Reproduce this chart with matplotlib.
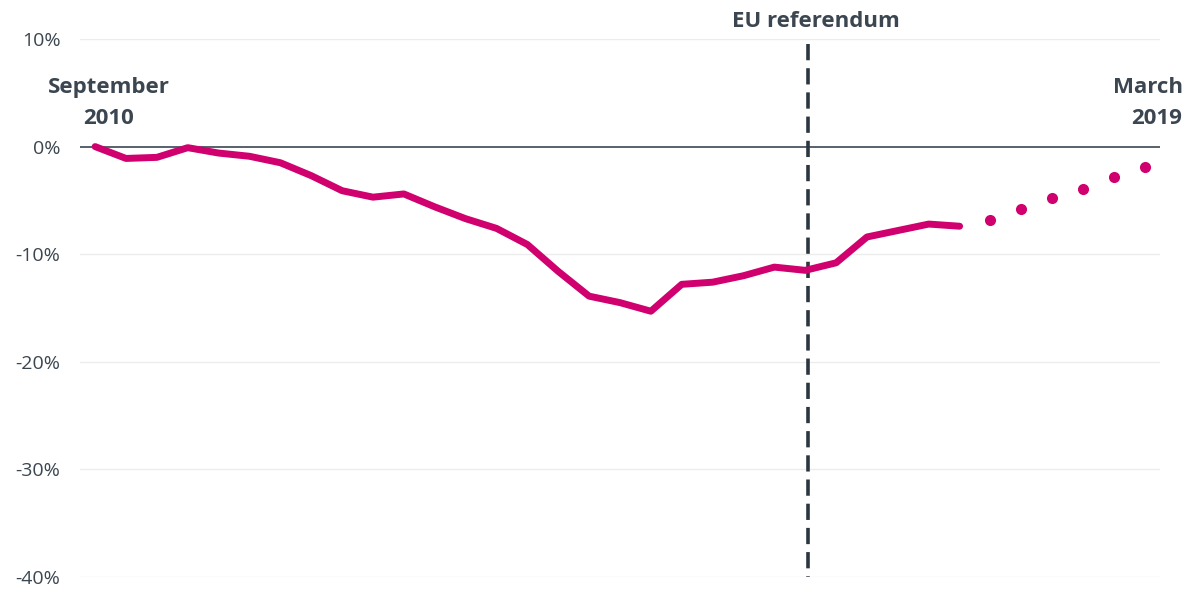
import matplotlib
matplotlib.use("Agg")
from matplotlib import pyplot as plt
import numpy as np

# quarterly change since September 2010 (%)
actual = [0.0, -1.1, -1.0, -0.1, -0.6, -0.9, -1.5, -2.7, -4.1, -4.7,
          -4.4, -5.6, -6.7, -7.6, -9.1, -11.6, -13.9, -14.5, -15.3, -12.8,
          -12.6, -12.0, -11.2, -11.5, -10.8, -8.4, -7.8, -7.2, -7.4]
projected = [-6.8, -5.8, -4.8, -3.9, -2.8, -1.9]
referendum_idx = 23
y_ticks = [10, 0, -10, -20, -30, -40]
y_tick_labels = ["10%", "0%", "-10%", "-20%", "-30%", "-40%"]

pink = "#d0006f"
text_col = "#3c4650"

plt.rcParams['font.family'] = ['Open Sans', 'DejaVu Sans']

fig = plt.figure(figsize=(11.94, 5.90), dpi=100)
ax = fig.add_axes([80 / 1194, 1 - 577 / 590, 1080 / 1194, 538 / 590])

x_act = np.arange(len(actual))
x_proj = np.arange(len(actual), len(actual) + len(projected))
n_total = len(actual) + len(projected)

for t in y_ticks:
    if t == 0:
        ax.axhline(t, color="#4a5560", lw=1.3, zorder=1)
    else:
        ax.axhline(t, color="#ececec", lw=1, zorder=0)

ax.plot(x_act, actual, color=pink, lw=5, solid_capstyle="round", solid_joinstyle="round", zorder=3)
ax.plot(x_proj, projected, "o", color=pink, ms=8, mec="none", zorder=3)

ax.plot([referendum_idx + 0.1, referendum_idx + 0.1], [9.5, -40], color="#2c3640", lw=2.6,
        dashes=(4.5, 2.2), zorder=2)

ax.set_xlim(-0.49, n_total - 1 + 0.49)
ax.set_ylim(-40, 10)
ax.set_yticks(y_ticks)
ax.set_yticklabels(y_tick_labels)
ax.tick_params(axis="y", length=0, pad=14, labelsize=14, labelcolor=text_col)
ax.set_xticks([])
for s in ax.spines.values():
    s.set_visible(False)

lab = dict(fontsize=16, fontweight="bold", color=text_col, clip_on=False, va="center")
ax.text(referendum_idx + 0.33, 11.6, "EU referendum", ha="center", **lab)
ax.text(0.45, 5.5, "September", ha="center", **lab)
ax.text(0.45, 2.65, "2010", ha="center", **lab)
ax.text(n_total - 1 + 1.22, 5.5, "March", ha="right", **lab)
ax.text(n_total - 1 + 1.22, 2.65, "2019", ha="right", **lab)

fig.savefig("out.png", dpi=100, facecolor="white")
